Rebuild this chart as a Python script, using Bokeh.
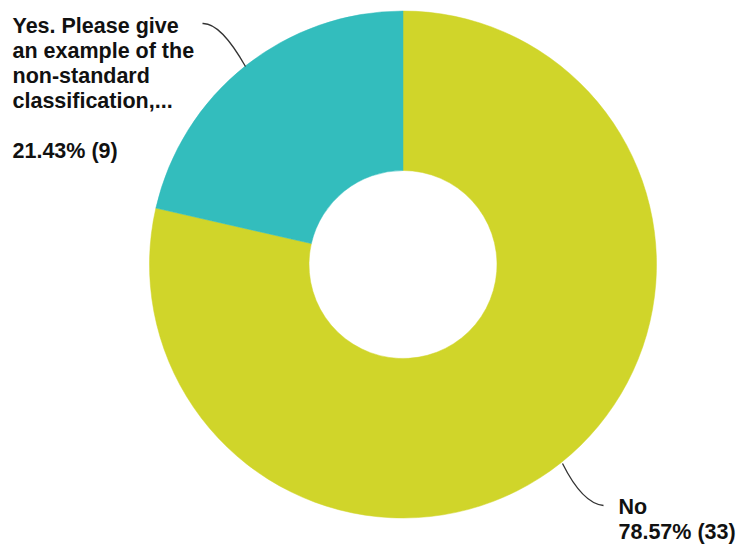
import math
from bokeh.plotting import figure
from bokeh.models import Range1d, ColumnDataSource
from bokeh.core.properties import value
from bokeh.embed import file_html
from bokeh.resources import INLINE

# ---- data ----
categories = ["No", "Yes. Please give an example of the non-standard classification,..."]
label_lines = [["No"], ["Yes. Please give", "an example of the", "non-standard", "classification,..."]]
counts = [33, 9]
colors = ["#D0D52A", "#33BDBD"]

W, H = 740, 544
total = sum(counts)
cx, cy = 402.5, H - 264.0
R_out, R_in = 253.5, 94.0
dy_txt = -7  # baseline correction

p = figure(width=W, height=H, output_backend="svg", toolbar_location=None,
           x_range=Range1d(0, W), y_range=Range1d(0, H),
           x_axis_type=None, y_axis_type=None, min_border=0)
p.outline_line_color = None
p.grid.visible = False
p.background_fill_color = "white"
p.border_fill_color = "white"

# wedge angles (start at 12 o'clock, clockwise)
starts, ends = [], []
a = math.pi / 2
for c in counts:
    starts.append(a)
    a -= 2 * math.pi * c / total
    ends.append(a)

src = ColumnDataSource(dict(start=starts, end=ends, color=colors,
                            x=[cx] * len(counts), y=[cy] * len(counts)))
p.annular_wedge(x="x", y="y", inner_radius=R_in, outer_radius=R_out,
                start_angle="start", end_angle="end", direction="clock",
                fill_color="color", line_color="color", line_width=0.5, source=src)

# leader lines
p.quadratic(x0=[202, 562], y0=[H - 23, H - 463],
            x1=[245, 603], y1=[H - 66, H - 505],
            cx=[220, 582], cy=[H - 22, H - 503],
            line_color="#333333", line_width=1.3)

# labels
pct = [f"{100 * c / total:.2f}% ({c})" for c in counts]
tx, ty, tt = [], [], []
for i, line in enumerate(label_lines[0]):
    tx.append(618); ty.append(H - (513 + dy_txt + 25 * i)); tt.append(line)
tx.append(618); ty.append(H - (538 + dy_txt)); tt.append(pct[0])
for i, line in enumerate(label_lines[1]):
    tx.append(12); ty.append(H - (32 + dy_txt + 25 * i)); tt.append(line)
tx.append(12); ty.append(H - (157 + dy_txt)); tt.append(pct[1])

p.text(x=tx, y=ty, text=tt, text_font=value("Liberation Sans"),
       text_font_style="bold", text_font_size="21.5px", text_color="#111111",
       text_baseline="alphabetic", text_align="left")

open("out.html", "w").write(file_html(p, INLINE))
